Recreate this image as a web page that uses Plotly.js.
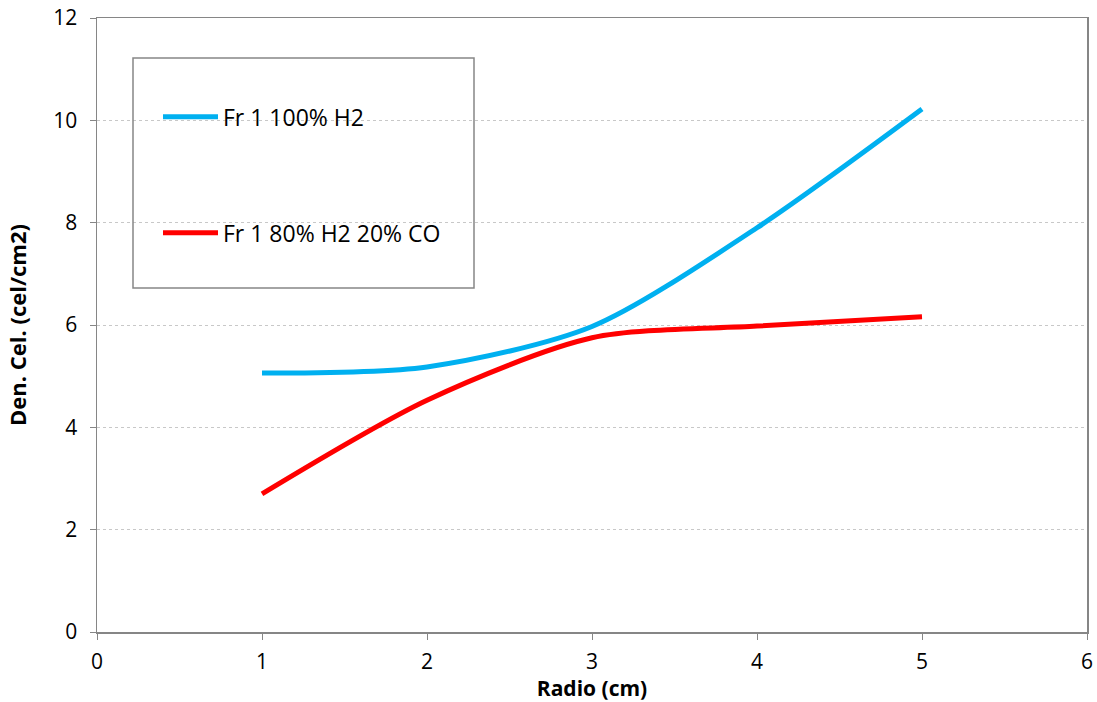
<!DOCTYPE html>
<html>
<head>
<meta charset="utf-8">
<script src="https://cdn.plot.ly/plotly-3.0.1.min.js"></script>
<style>html,body{margin:0;padding:0;background:#fff;}#chart{width:1097px;height:702px;}</style>
</head>
<body>
<div id="chart"></div>
<script>
var radio = [1, 2, 3, 4, 5];
var seriesNames = ["Fr 1 100% H2", "Fr 1 80% H2 20% CO"];
var h2Values = [5.06, 5.18, 5.97, 7.9, 10.22];
var coValues = [2.70, 4.53, 5.75, 5.98, 6.16];
var xTicks = [0, 1, 2, 3, 4, 5, 6];
var yTicks = [0, 2, 4, 6, 8, 10, 12];

var fontFam = "Open Sans, Noto Sans, sans-serif";
var traces = [
  {x: radio, y: h2Values, name: seriesNames[0], type: "scatter", mode: "lines",
   line: {color: "#00B0F0", width: 5, shape: "spline", smoothing: 0.8}, legendgroup: "a"},
  {x: radio, y: coValues, name: seriesNames[1], type: "scatter", mode: "lines",
   line: {color: "#FF0000", width: 5, shape: "spline", smoothing: 0.8}, legendgroup: "b"}
];
var layout = {
  width: 1097, height: 702,
  margin: {l: 97, r: 10, t: 18, b: 70},
  paper_bgcolor: "#fff", plot_bgcolor: "#fff",
  font: {family: fontFam, size: 21, color: "#000"},
  showlegend: true,
  legend: {x: (158-97)/990, y: 0.874, xanchor: "left", yanchor: "top", bgcolor: "rgba(0,0,0,0)",
           borderwidth: 0, tracegroupgap: 83, traceorder: "grouped",
           font: {family: fontFam, size: 23, color: "#000"}, itemwidth: 55},
  xaxis: {range: [0, 6], tickvals: xTicks, ticks: "outside", ticklen: 6, tickcolor: "#868686",
          showline: true, linecolor: "#868686", linewidth: 1.5, mirror: true, showgrid: false,
          zeroline: false, tickfont: {size: 21}, ticklabelstandoff: 4,
          title: {text: "<b>Radio (cm)</b>", font: {size: 21}, standoff: 3}},
  yaxis: {range: [0, 12], tickvals: yTicks, ticks: "outside", ticklen: 6, tickcolor: "#868686",
          showline: true, linecolor: "#868686", linewidth: 1.5, mirror: true,
          showgrid: true, gridcolor: "#c8c8c8", griddash: "dot", gridwidth: 1,
          zeroline: false, tickfont: {size: 21}, ticklabelstandoff: 8,
          title: {text: "<b>Den. Cel. (cel/cm2)</b>", font: {size: 22}, standoff: 20}},
  shapes: [{type: "rect", xref: "paper", yref: "paper",
            x0: (133-97)/990, x1: (474-97)/990, y0: (632-288)/614, y1: (632-58)/614,
            line: {color: "#868686", width: 1.5}, fillcolor: "rgba(0,0,0,0)", layer: "above"}]
};
Plotly.newPlot("chart", traces, layout, {displayModeBar: false, staticPlot: true});
</script>
</body>
</html>
